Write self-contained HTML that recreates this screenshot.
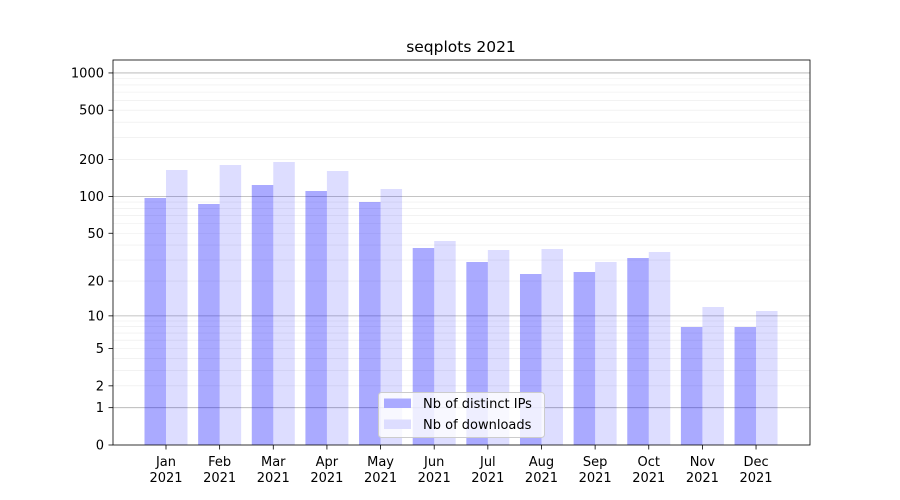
<!DOCTYPE html><html><head><meta charset="utf-8"><style>body{margin:0;background:#fff}svg{display:block;font-family:"DejaVu Sans","Liberation Sans",sans-serif}</style></head><body>
<svg id="s" width="900" height="500" xmlns="http://www.w3.org/2000/svg"></svg>
<script>
const s=document.getElementById('s');let h='';
const Y=v=>445-124*Math.log10(1+v);
const minors=[];for(let d=1;d<=1000;d*=10)for(let k=1;k<10;k++){const v=d*k;if(v<=1300)minors.push(v);}
minors.forEach(v=>{const y=Y(v);if(y<60)return;const maj=[1,10,100,1000].includes(v);h+=`<line x1="113" x2="810" y1="${y}" y2="${y}" stroke="${maj?'#b0b0b0':'#ebebeb'}" stroke-width="${maj?0.8:0.6}"/>`;});
const ips=[198,204,185,191,202,248,262,274,272,258,327,327];
const dl=[170,165,162,171,189,241,250,249,262,252,307,311];
const mon=['Jan','Feb','Mar','Apr','May','Jun','Jul','Aug','Sep','Oct','Nov','Dec'];
for(let i=0;i<12;i++){const c=166+i*53.64;
h+=`<rect x="${c-21.5}" y="${ips[i]}" width="21.5" height="${445-ips[i]}" fill="#0000ff" fill-opacity="0.333"/>`;
h+=`<rect x="${c}" y="${dl[i]}" width="21.5" height="${445-dl[i]}" fill="#0000ff" fill-opacity="0.133"/>`;
h+=`<line x1="${c}" x2="${c}" y1="445" y2="449.5" stroke="#000" stroke-width="0.8"/>`;
h+=`<text x="${c}" y="466" font-size="13" text-anchor="middle">${mon[i]}</text><text x="${c}" y="482" font-size="13" text-anchor="middle">2021</text>`;}
[0,1,2,5,10,20,50,100,200,500,1000].forEach(v=>{const y=Y(v);h+=`<line x1="108.5" x2="113" y1="${y}" y2="${y}" stroke="#000" stroke-width="0.8"/><text x="104" y="${y+4.5}" font-size="13" text-anchor="end">${v}</text>`;});
h+=`<rect x="113" y="60" width="697" height="385" fill="none" stroke="#000" stroke-width="0.8"/>`;
h+=`<text x="461" y="52" font-size="15.5" text-anchor="middle">seqplots 2021</text>`;
h+=`<rect x="378.5" y="392.5" width="166" height="45" rx="3" fill="#fff" fill-opacity="0.8" stroke="#ccc"/>`;
h+=`<rect x="384" y="398.5" width="27" height="9.5" fill="#aaaaff"/><text x="423" y="408" font-size="13">Nb of distinct IPs</text>`;
h+=`<rect x="384" y="419.5" width="27" height="9.5" fill="#ddddff"/><text x="423" y="429" font-size="13">Nb of downloads</text>`;
s.innerHTML=h;
</script></body></html>
